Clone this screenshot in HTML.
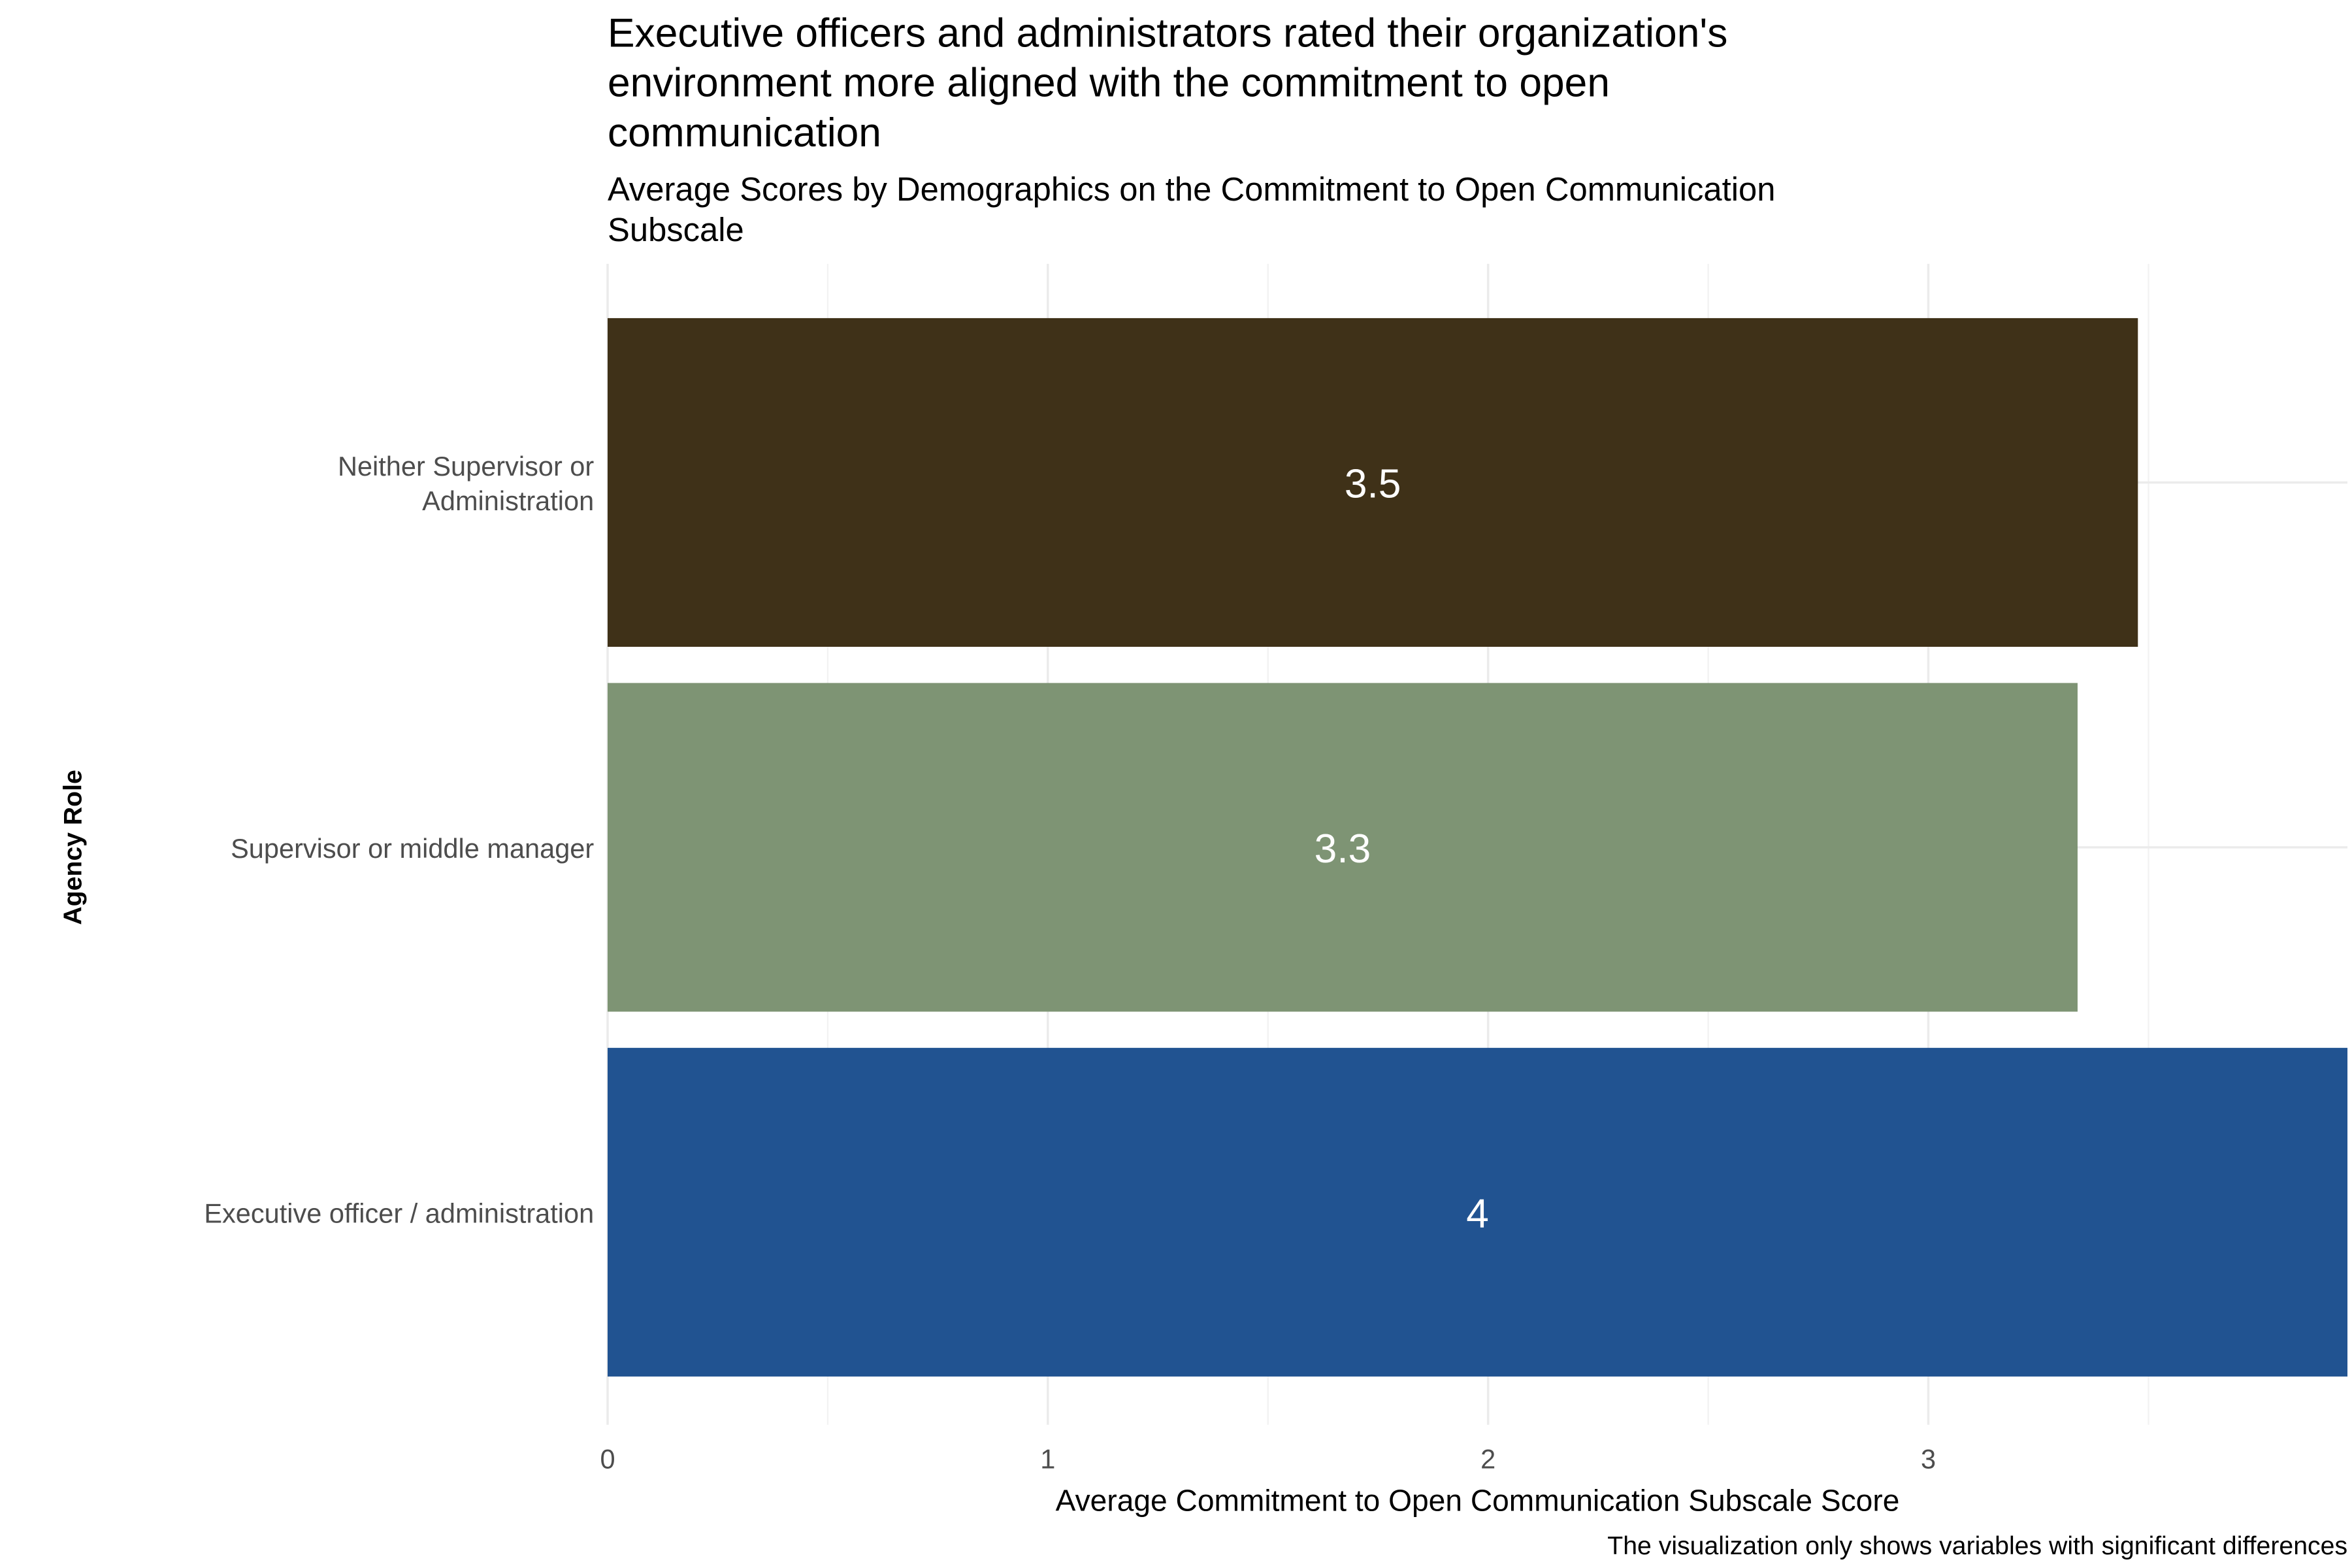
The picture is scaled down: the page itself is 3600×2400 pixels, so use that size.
<!DOCTYPE html>
<html><head><meta charset="utf-8"><style>
html,body{margin:0;padding:0;background:#fff;}
svg{display:block;font-family:"Liberation Sans",Arial,sans-serif;}
</style></head><body>
<svg id="chart" width="3600" height="2400" viewBox="0 0 1560 1040" xmlns="http://www.w3.org/2000/svg">
<g id="grid"></g>
<g id="bars"></g>
<g id="axes"></g>
<text x="403" y="31" font-size="27" fill="#000">Executive officers and administrators rated their organization's</text>
<text x="403" y="64" font-size="27" fill="#000">environment more aligned with the commitment to open</text>
<text x="403" y="97" font-size="27" fill="#000">communication</text>
<text x="403" y="133" font-size="22" fill="#000">Average Scores by Demographics on the Commitment to Open Communication</text>
<text x="403" y="160" font-size="22" fill="#000">Subscale</text>
<text x="980" y="1002" font-size="20" text-anchor="middle" fill="#000">Average Commitment to Open Communication Subscale Score</text>
<text transform="translate(54,562) rotate(-90)" font-size="17" font-weight="bold" text-anchor="middle" fill="#000">Agency Role</text>
<text x="1557" y="1031" font-size="17" text-anchor="end" fill="#000">The visualization only shows variables with significant differences</text>
</svg>
<script>
const categories = ["Neither Supervisor or|Administration", "Supervisor or middle manager", "Executive officer / administration"];
const values = [3.476, 3.339, 3.952];
const printedValues = ["3.5", "3.3", "4"];
const colors = ["#3F3118", "#7E9474", "#215391"];
const xTicks = [0, 1, 2, 3];
const xMinor = [0.5, 1.5, 2.5, 3.5];

const NS = "http://www.w3.org/2000/svg";
const x0 = 403, unit = 292, panelTop = 175, panelBottom = 945, panelRight = 1557;
const bandH = 242, barH = 218;
function xs(v){ return x0 + v*unit; }
function yc(i){ return 320 + i*bandH; }
function mk(tag, attrs, parent){ const e=document.createElementNS(NS,tag); for(const k in attrs) e.setAttribute(k,attrs[k]); parent.appendChild(e); return e; }

const grid = document.getElementById('grid');
xMinor.forEach(v=>{
  const l = mk('line',{x1:xs(v),x2:xs(v),y1:panelTop,y2:panelBottom,stroke:'#F2F2F2','stroke-width':1},grid);
  
  
});
xTicks.forEach(v=>{
  const l = mk('line',{x1:xs(v),x2:xs(v),y1:panelTop,y2:panelBottom,stroke:'#EBEBEB','stroke-width':1.5},grid);
  
  
});
categories.forEach((c,i)=>{
  const l = mk('line',{x1:x0,x2:panelRight,y1:yc(i),y2:yc(i),stroke:'#EBEBEB','stroke-width':1.5},grid);
  
  
});

const bars = document.getElementById('bars');
values.forEach((v,i)=>{
  const r = mk('rect',{x:xs(0),y:yc(i)-barH/2,width:xs(v)-xs(0),height:barH,fill:colors[i]},bars);
  
  
  const t = mk('text',{x:xs(v/2),y:yc(i)+10,'font-size':27,'text-anchor':'middle',fill:'#fff'},bars);
  t.textContent = printedValues[i];
  
  
});

const axes = document.getElementById('axes');
xTicks.forEach(v=>{
  const t = mk('text',{x:xs(v),y:974,'font-size':18,'text-anchor':'middle',fill:'#4D4D4D'},axes);
  t.textContent = v;
  
  
});
categories.forEach((c,i)=>{
  const lines = c.split('|');
  lines.forEach((ln,j)=>{
    const y = yc(i) + 7 + (j - (lines.length-1)/2)*23;
    const t = mk('text',{x:394,y:y,'font-size':18,'text-anchor':'end',fill:'#4D4D4D'},axes);
    t.textContent = ln;
    
    
  });
});
</script>
</body></html>
